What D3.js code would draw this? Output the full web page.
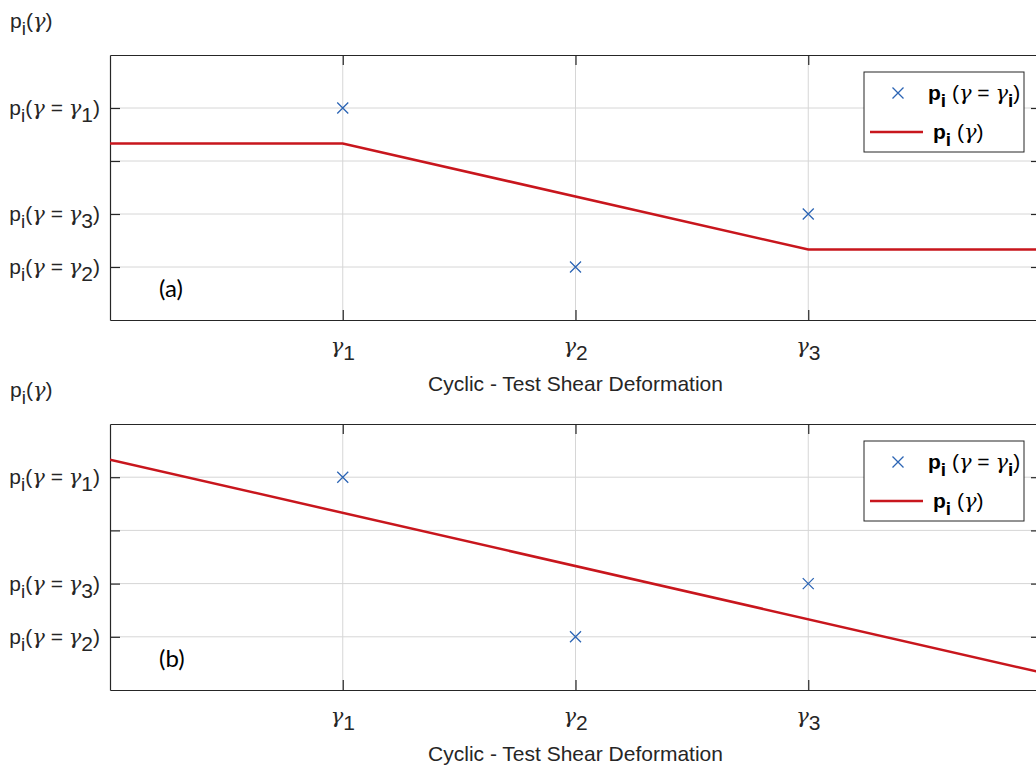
<!DOCTYPE html>
<html><head><meta charset="utf-8">
<script src="https://cdn.jsdelivr.net/npm/d3@7"></script>
<style>body{margin:0;background:#fff}svg{display:block}</style>
</head><body><svg id="c" width="1036" height="767"></svg>
<script>
// ---- data ----
const xTicks = [1, 2, 3];
const xTickSubs = ["1", "2", "3"];
const yTicks = [1, 2, 3, 4];
const yTickSubs = ["2", "3", null, "1"];   // p_i(γ = γ_sub) labels; null = unlabeled
const pointsX = [1, 2, 3];
const pointsY = [4, 1, 2];
const lineAX = [0, 1, 3, 4];
const lineAY = [3.33, 3.33, 1.33, 1.33];
const lineBX = [0, 4];
const lineBY = [4.33, 0.33];
const panelLabels = ["(a)", "(b)"];
const xTitle = "Cyclic - Test Shear Deformation";

const svg = d3.select("#c");
const SANS = "'Liberation Sans', Arial, sans-serif";
const GREEK = "'DejaVu Serif', serif";
const FS = 21;

const panels = [
  {top: 55, bottom: 320, lx: lineAX, ly: lineAY, label: panelLabels[0]},
  {top: 424, bottom: 690, lx: lineBX, ly: lineBY, label: panelLabels[1]}
];
const left = 110, right = 1041;
const x = d3.scaleLinear().domain([0, 4]).range([left, right]);

function gam(t) {
  return t.append("tspan").attr("font-family", GREEK).attr("font-style", "italic").attr("font-weight", "normal").attr("fill", "#262626").text("γ");
}

panels.forEach((p, pi) => {
  const y = d3.scaleLinear().domain([0, 5]).range([p.bottom, p.top]);
  const g = svg.append("g");
  const cid = "clip" + pi;
  svg.append("clipPath").attr("id", cid).append("rect")
    .attr("x", left).attr("y", p.top).attr("width", right - left).attr("height", p.bottom - p.top);
  // grid
  g.selectAll(".gx").data(xTicks).join("line")
    .attr("x1", d => x(d)).attr("x2", d => x(d)).attr("y1", p.top).attr("y2", p.bottom)
    .attr("stroke", "#d6d6d6").attr("stroke-width", 1);
  g.selectAll(".gy").data(yTicks).join("line")
    .attr("x1", left).attr("x2", right).attr("y1", d => y(d)).attr("y2", d => y(d))
    .attr("stroke", "#d6d6d6").attr("stroke-width", 1);
  // axes with ticks
  const axB = d3.axisBottom(x).tickValues(xTicks).tickSizeInner(-10).tickSizeOuter(0).tickFormat("");
  const axT = d3.axisTop(x).tickValues(xTicks).tickSizeInner(-10).tickSizeOuter(0).tickFormat("");
  const axL = d3.axisLeft(y).tickValues(yTicks).tickSizeInner(-10).tickSizeOuter(0).tickFormat("");
  const axR = d3.axisRight(y).tickValues(yTicks).tickSizeInner(-10).tickSizeOuter(0).tickFormat("");
  [[axB, `translate(0,${p.bottom})`], [axT, `translate(0,${p.top})`],
   [axL, `translate(${left},0)`], [axR, `translate(${right},0)`]].forEach(([ax, tr]) => {
    const a = svg.append("g").attr("transform", tr).call(ax);
    a.selectAll("path,line").attr("stroke", "#262626").attr("stroke-width", 1.2);
  });
  // x tick labels
  xTicks.forEach((d, i) => {
    const t = svg.append("text").attr("x", x(d)).attr("y", p.bottom + 33)
      .attr("text-anchor", "middle").attr("font-family", SANS).attr("font-size", FS).attr("fill", "#262626");
    gam(t);
    t.append("tspan").attr("dy", 7).text(xTickSubs[i]);
  });
  // x title
  svg.append("text").attr("x", x(2)).attr("y", p.bottom + 71).attr("text-anchor", "middle")
    .attr("font-family", SANS).attr("font-size", FS).attr("fill", "#262626").text(xTitle);
  // y tick labels
  yTicks.forEach((d, i) => {
    if (!yTickSubs[i]) return;
    const t = svg.append("text").attr("x", 100).attr("y", y(d) + 7).attr("text-anchor", "end")
      .attr("font-family", SANS).attr("font-size", FS).attr("fill", "#262626");
    t.append("tspan").text("p");
    t.append("tspan").attr("dy", 7).attr("font-size", FS * 0.9).text("i");
    t.append("tspan").attr("dy", -7).text("(");
    gam(t);
    t.append("tspan").text(" = ");
    gam(t);
    t.append("tspan").attr("dy", 7).text(yTickSubs[i]);
    t.append("tspan").attr("dy", -7).text(")");
  });
  // y title
  const yt = svg.append("text").attr("x", 10).attr("y", p.top - 27)
    .attr("font-family", SANS).attr("font-size", FS).attr("fill", "#262626");
  yt.append("tspan").text("p");
  yt.append("tspan").attr("dy", 7).attr("font-size", FS * 0.9).text("i");
  yt.append("tspan").attr("dy", -7).text("(");
  gam(yt);
  yt.append("tspan").text(")");
  // regression line
  const lineData = p.lx.map((v, i) => [v, p.ly[i]]);
  svg.append("path").datum(lineData).attr("clip-path", `url(#${cid})`)
    .attr("d", d3.line().x(d => x(d[0])).y(d => y(d[1])))
    .attr("fill", "none").attr("stroke", "#c8161d").attr("stroke-width", 2.5);
  // points
  const ms = 5.5;
  svg.selectAll(null).data(pointsX.map((v, i) => [v, pointsY[i]])).join("path")
    .attr("d", d => `M${x(d[0]) - ms},${y(d[1]) - ms}L${x(d[0]) + ms},${y(d[1]) + ms}M${x(d[0]) - ms},${y(d[1]) + ms}L${x(d[0]) + ms},${y(d[1]) - ms}`)
    .attr("stroke", "#2b64b4").attr("stroke-width", 1.3).attr("fill", "none");
  // panel label
  svg.append("text").attr("x", 159).attr("y", y(0.43)).attr("font-family", "Lato, 'Open Sans', sans-serif")
    .attr("font-size", 24).attr("fill", "#000").text(p.label);
  // legend
  const lg = svg.append("g").attr("transform", `translate(864,${p.top + 17})`);
  lg.append("rect").attr("width", 160).attr("height", 80).attr("fill", "#fff").attr("stroke", "#262626").attr("stroke-width", 1);
  const mx = 34, my = 21;
  lg.append("path").attr("d", `M${mx - ms},${my - ms}L${mx + ms},${my + ms}M${mx - ms},${my + ms}L${mx + ms},${my - ms}`)
    .attr("stroke", "#2b64b4").attr("stroke-width", 1.3);
  const t1 = lg.append("text").attr("x", 64).attr("y", my + 7).attr("font-family", SANS).attr("font-size", FS).attr("fill", "#000");
  t1.append("tspan").attr("font-weight", "bold").text("p");
  t1.append("tspan").attr("dy", 7).attr("font-weight", "bold").attr("font-size", FS * 0.9).text("i");
  t1.append("tspan").attr("dy", -7).text(" (");
  gam(t1).attr("fill", "#000");
  t1.append("tspan").text(" = ");
  gam(t1).attr("fill", "#000");
  t1.append("tspan").attr("dy", 7).attr("font-weight", "bold").attr("font-size", FS * 0.9).text("i");
  t1.append("tspan").attr("dy", -7).text(")");
  const ly2 = 60;
  lg.append("line").attr("x1", 6).attr("x2", 59).attr("y1", ly2).attr("y2", ly2)
    .attr("stroke", "#c8161d").attr("stroke-width", 2.5);
  const t2 = lg.append("text").attr("x", 69).attr("y", ly2 + 7).attr("font-family", SANS).attr("font-size", FS).attr("fill", "#000");
  t2.append("tspan").attr("font-weight", "bold").text("p");
  t2.append("tspan").attr("dy", 7).attr("font-weight", "bold").attr("font-size", FS * 0.9).text("i");
  t2.append("tspan").attr("dy", -7).text(" (");
  gam(t2).attr("fill", "#000");
  t2.append("tspan").text(")");
});
</script></body></html>
